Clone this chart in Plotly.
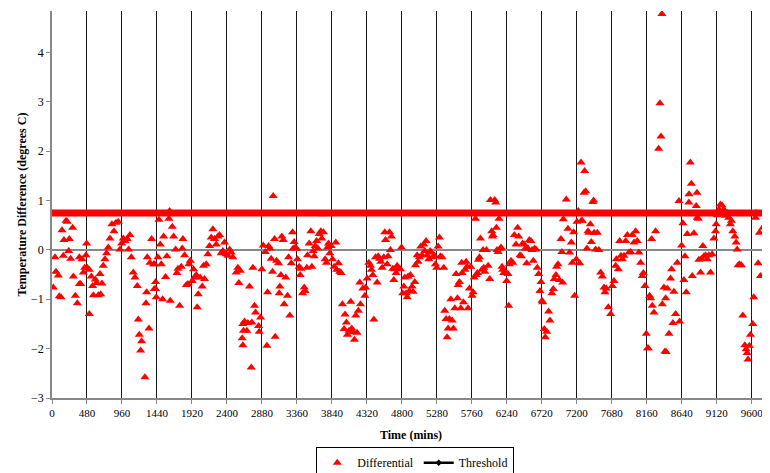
import plotly.graph_objects as go

# ---- data ----
time_seg1 = [18,41,55,87,100,123,137,155,164,192,210,229,238,256,283,293,320,347,375,375,
             393,411,430,448,466,475,484,512,512,539,557,567,594,612,635,658,667,685,703,726,
             749,772,795,822,850,877,909,932,955,978,1001,1033,1051,1069,1088,1115,1138,1170,1184,1197,
             1216,1229,1275,1289,1298,1307,1330,1344,1367,1394,1403]
diff_seg1 = [-0.76,-0.15,-0.44,-0.52,-0.94,-0.96,0.40,-0.12,0.20,0.59,0.57,-0.02,0.22,-0.18,0.45,-0.54,-0.93,-1.08,-0.69,-0.15,
             -0.69,-0.19,-0.46,-0.36,-0.11,0.13,-0.36,-1.30,-0.40,-0.54,-0.73,-0.92,-0.60,-0.67,-0.92,-0.49,-0.90,-0.68,-0.32,-0.19,
             -0.07,0.05,0.23,0.52,0.38,0.55,0.57,0.01,0.13,0.23,0.18,0.22,0.01,0.30,-0.15,-0.46,-0.56,-0.73,-1.41,-1.72,
             -2.04,-1.85,-2.58,-1.08,-0.86,-0.15,-1.59,-0.26,0.22,-0.29,-0.79]

time_seg2 = [1408,1421,1421,1430,1453,1467,1485,1499,1517,1531,1558,1577,1604,1613,1622,1650,1668,1696,1714,1728,
             1751,1773,1787,1796,1819,1842,1865,1878,1897,1924,1942,1956,1979,1992,2006,2033,2061,2079,2093,2116,
             2138,2161,2184,2207,2230,2253,2275,2298,2321,2344,2367,2390,2413,2436,2458,2481,2527,2550,2563,2582,
             2609,2618,2618,2627,2641,2673,2687,2710,2733,2742,2756,2778,2792]
diff_seg2 = [-0.29,-0.65,-0.79,-0.96,-0.15,0.61,0.11,-0.29,-1.00,0.27,-0.55,-0.13,0.63,0.79,-1.03,0.47,0.27,0.01,-0.47,-0.38,
             -1.13,-0.34,0.03,0.22,-0.11,-0.71,-0.69,-0.29,-0.22,-0.63,-0.39,-0.56,-0.51,-1.16,-0.90,-0.56,-0.74,-0.32,-0.59,-0.29,
             -0.09,0.08,0.25,0.42,0.22,0.11,0.27,0.30,-0.07,-0.02,0.15,-0.09,-0.12,0.01,-0.05,-0.15,-0.46,-0.36,-0.67,-0.42,
             -1.79,-1.50,-1.93,-1.64,-1.45,-1.64,-1.48,-0.74,-2.38,-1.47,-0.36,-1.13,-1.27]

time_seg3 = [2834,2843,2861,2879,2898,2925,2948,2957,2971,2989,3007,3025,3034,3053,3062,3080,3108,
             3117,3126,3140,3153,3172,3185,3208,3231,3245,3263,3282,3300,3309,3322,3336,3355,3368,3391,3405,3414,
             3437,3460,3473,3496,3505,3528,3551,3565,3583,3597,3610,3629,3647,3665,3688,3701,3711,3724,3747,3765,
             3779,3793,3811,3829,3848,3870,3893,3907,3930,3948,3966,3984,4007,4020,4039,4053,4075,4098,4112,4130,
             4149,4167,4185,4203,4222]
diff_seg3 = [-1.54,-1.66,-1.37,-0.39,0.09,-0.04,-1.94,-0.86,0.08,0.03,-0.18,-0.44,1.09,0.22,-1.76,-0.22,-0.27,
             -0.88,-0.74,-0.51,0.27,0.20,-1.10,-0.56,-0.93,-0.15,-1.33,-0.27,0.36,0.03,0.16,0.05,0.03,-0.19,-0.34,-0.51,-0.38,
             -0.88,-0.76,-0.83,-0.36,-0.11,0.13,0.38,-0.34,-0.02,-0.13,0.08,0.18,0.03,0.32,0.38,0.23,0.72,0.36,-0.19,-0.26,
             0.05,0.13,-0.07,0.08,-0.19,-0.34,0.15,-0.40,-0.27,-0.44,-0.47,-1.10,-1.60,-1.31,-1.47,-1.72,-1.64,-1.05,-1.59,-1.67,
             -1.82,-1.33,-1.68,-1.23,-0.66]

time_seg4 = [4232,4264,4292,4301,4324,4347,4369,4383,4401,4415,4438,4461,4474,4493,4511,4529,4552,4566,4575,4598,
             4611,4630,4643,4657,4675,4689,4703,4721,4735,4757,4780,4794,4812,4826,4840,4858,4872,4885,4904,4917,
             4940,4954,4977,4986,5009,5022,5041,5059,5077,5100,5114,5132,5146,5169,5187,5205,5224,5242,5260,5278,
             5297,5315,5329,5352,5374,5388,5406,5420,5434,5452,5471,5489,5507,5526,5544,5562,5571,5590,5608,5626]
diff_seg4 = [-1.10,-0.78,-0.93,-0.76,-0.58,-0.26,-0.32,-0.40,-0.51,-1.41,-0.15,-0.66,-0.13,-0.18,-0.24,-0.36,-0.15,0.36,0.20,-0.29,
             -0.13,0.36,0.00,0.27,-0.38,-0.61,-0.39,-0.47,-0.32,-0.38,-0.39,0.05,-0.88,-0.74,-0.56,-0.88,-0.96,-0.54,-0.83,-0.51,
             -0.74,-0.85,-0.65,-0.31,-0.11,-0.24,-0.15,0.07,-0.11,0.11,-0.02,0.18,-0.11,-0.19,-0.02,-0.05,-0.15,-0.11,-0.29,-0.36,
             0.07,0.25,-0.13,-0.15,-0.36,-1.23,-1.40,-1.77,-1.59,-1.40,-1.00,-1.43,-1.59,-1.18,-0.49,-0.98,-0.71,-0.65,-1.18,-0.47]

time_seg5 = [5621,5644,5667,5681,5695,5708,5727,5745,5763,5777,5791,5809,5818,5837,5850,5864,5878,5896,5914,5923,
             5937,5960,5983,6005,6014,6032,6042,6050,6073,6087,6096,6105,6119,6133,6151,6160,6174,6183,6197,6220,
             6237,6256,6265,6274,6297,6320,6343,6365,6388,6402,6420,6439,6457,6480,6494,6512,6530,6548,6571,6585,
             6603,6621,6640,6658,6676,6694,6708,6722,6731,6753,6767,6786,6813,6831,6858,6877,6890,6913,6922,6941,
             6959,6982,6995,7005,7014]
diff_seg5 = [-0.26,-1.06,-0.40,-0.24,-0.34,-1.18,-0.78,-0.34,-0.93,-0.86,-0.56,0.63,-0.51,-0.47,-0.20,-0.15,0.23,-0.40,0.00,-0.36,
             -0.44,0.00,-0.32,-0.59,1.01,0.38,0.27,0.30,1.01,0.96,0.45,0.00,-0.04,0.63,0.03,0.05,-0.34,-0.40,-0.47,-0.44,
             -0.63,-0.49,-1.13,-0.29,-0.22,-0.26,0.30,0.11,0.45,0.27,-0.11,-0.13,0.13,0.11,0.03,-0.27,0.03,0.20,0.18,0.00,
             -0.22,0.03,0.01,-0.36,-0.49,-0.83,-0.65,-1.03,-1.06,-1.60,-1.77,-1.66,-1.25,-1.43,-0.88,-0.79,-0.59,-0.51,-0.34,-0.29,
             -0.61,0.22,-0.04,-0.66,0.62]

time_seg6 = [7078,7101,7124,7138,7156,7170,7193,7202,7220,7239,7261,7275,7339,7353,7367,7385,7398,7421,7436,7458,
             7481,7504,7527,7550,7573,7586,7604,7632,7664,7687,7710,7733,7742,7769,7788,7806,7824,7847,7870,7893,
             7915,7938,7961,7984,8007,8029,8052,8075,8098,8112,8135,8153,8171,8180,8198,8212,8226,8235,8258,8281,
             8372,8395,8409,8418,8427,8441,8464,8486,8500,8518,8532,8555,8578,8601,8610,8637,8655,8669,8683,8701,
             8715,8737,8783,8806,8838,8852,8866,8875,8897,8911,8929,8943,8966,8989,9011,9034,9057,9080,9102,9111,
             9125,9148,9170,9193,9216,9239,9262,9285,9307,9321,9340,9367,9385,9399,9413,9431,9458,9477,9504,9522,
             9536,9549,9568,9582,9614,9627,9650,9659,9687,9705,9719,9751,9765]
diff_seg6 = [0.43,-0.05,0.15,-0.26,0.36,-0.93,-0.19,0.57,0.79,-0.27,0.59,0.59,0.03,0.38,0.35,0.52,0.16,0.97,0.35,0.01,
             0.35,0.00,-0.46,-0.54,-0.76,-0.86,-0.78,-1.16,-1.30,-0.73,-0.63,-0.32,-0.19,-0.39,0.18,-0.12,-0.19,-0.12,0.18,0.30,
             -0.05,-0.04,0.30,0.15,0.38,0.18,-0.05,-0.26,-0.53,-0.47,-0.73,-1.70,-1.99,-1.99,-0.93,-0.98,0.22,-1.13,-1.27,0.38,
             -1.10,-0.76,-2.06,-0.98,-2.07,-0.78,-1.70,-0.58,-0.39,-1.48,-0.85,-1.30,-0.26,0.99,-1.45,0.09,0.54,-0.61,-0.13,-0.86,
             0.32,0.96,-0.53,0.34,0.89,0.65,0.63,-0.20,-0.46,-0.18,0.08,-0.13,-0.11,-0.19,-0.11,-0.46,-0.09,0.23,0.38,0.52,
             0.70,0.82,0.92,0.90,0.82,0.69,0.75,0.65,0.52,0.59,0.38,0.27,0.15,0.01,-0.31,-0.29,-0.31,-1.33,-1.93,-2.01,
             -2.09,-2.22,-1.94,-1.72,-1.50,-0.96,0.65,0.75,-0.27,0.35,-0.53,0.45,0.75]

time_high = [7055,7257,7298,7307,7321,7430,8322,8340,8354,8367,8739,8757,8771,8848]
diff_high = [1.02,1.77,1.16,1.60,1.19,1.00,2.05,2.97,2.30,4.78,1.13,1.77,1.34,1.16]

threshold_value = 0.75
threshold_span = [0, 9850]

x_tick_values = list(range(0, 9601, 480))
y_tick_values = [-3, -2, -1, 0, 1, 2, 3, 4]

time_mins = time_seg1 + time_seg2 + time_seg3 + time_seg4 + time_seg5 + time_seg6 + time_high
differential = diff_seg1 + diff_seg2 + diff_seg3 + diff_seg4 + diff_seg5 + diff_seg6 + diff_high
assert len(time_mins) == len(differential)

FONT = "Liberation Serif"

fig = go.Figure()
fig.add_trace(go.Scatter(
    x=threshold_span, y=[threshold_value] * len(threshold_span),
    mode="lines", line=dict(color="#ff0000", width=7),
    showlegend=False, hoverinfo="skip"))
fig.add_trace(go.Scatter(
    x=time_mins, y=differential, mode="markers", name="Differential",
    marker=dict(symbol="triangle-up", color="#ff0000", size=8, line=dict(width=0))))
fig.add_trace(go.Scatter(
    x=[None], y=[None], mode="lines+markers", name="Threshold",
    line=dict(color="black", width=2.5),
    marker=dict(symbol="diamond", color="black", size=5)))

fig.update_layout(
    width=770, height=473,
    margin=dict(l=44, r=8, t=3, b=83, autoexpand=False),
    paper_bgcolor="white", plot_bgcolor="white",
    font=dict(family=FONT, size=11, color="black"),
    showlegend=True,
    legend=dict(orientation="h", x=0.506, xanchor="center", y=-0.127, yanchor="top",
                bordercolor="black", borderwidth=1, font=dict(family=FONT, size=12),
                itemwidth=30, tracegroupgap=0, traceorder="normal"),
    xaxis=dict(range=[0, 9850], tickmode="array", tickvals=x_tick_values,
               ticktext=[str(v) for v in x_tick_values], automargin=False,
               showgrid=True, gridcolor="#1a1a1a", gridwidth=1,
               zeroline=False, showline=True, linecolor="#888888", linewidth=1.5,
               ticks="outside", ticklen=4, tickcolor="#888888",
               tickfont=dict(family=FONT, size=11),
               title=dict(text="<b>Time (mins)</b>", font=dict(family=FONT, size=12), standoff=13)),
    yaxis=dict(range=[-3, 4.84], tickmode="array", tickvals=y_tick_values, automargin=False,
               showgrid=False, zeroline=True, zerolinecolor="#888888", zerolinewidth=1.5,
               showline=True, linecolor="#888888", linewidth=1.5,
               ticks="outside", ticklen=4, tickcolor="#888888",
               tickfont=dict(family=FONT, size=12),
               title=dict(text="<b>Temperature Difference (degrees C)</b>",
                          font=dict(family=FONT, size=12), standoff=2)),
)

fig.write_html("out.html")
